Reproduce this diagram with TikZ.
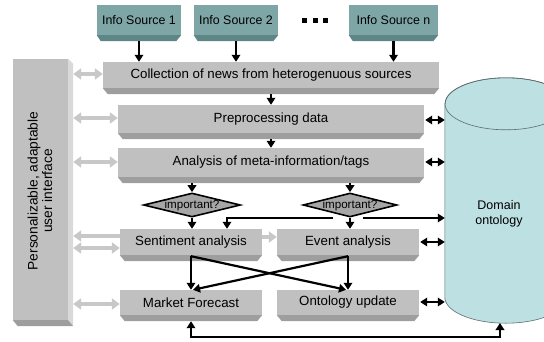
\documentclass[tikz,border=0pt]{standalone}
\usepackage{fontspec}
\setmainfont{Liberation Sans}
\usetikzlibrary{arrows.meta,shapes.geometric,calc}
\definecolor{boxgray}{HTML}{C0C0C0}
\definecolor{bevgray}{HTML}{9E9E9E}
\definecolor{uilight}{HTML}{D9D9D9}
\definecolor{srcteal}{HTML}{7FA6A7}
\definecolor{srcdark}{HTML}{5F8687}
\definecolor{cylfill}{HTML}{BDE0E3}
\definecolor{cylline}{HTML}{5A6E70}
\definecolor{garrow}{HTML}{C8C8C8}
\definecolor{diafill}{HTML}{A6A6A6}
\begin{document}
\begin{tikzpicture}[x=1pt,y=-1pt,
  txt/.style={font=\fontsize{13.3}{15}\selectfont},
  gbox/.style={txt,fill=boxgray,inner sep=0pt,minimum height=26pt},
  srcbox/.style={font=\fontsize{12.4}{14}\selectfont,fill=srcteal,inner sep=0pt,minimum height=30pt},
  dia/.style={diamond,draw=black,line width=1.6pt,fill=diafill,inner sep=0pt,minimum width=97pt,minimum height=24pt},
  blk/.style={line width=2.2pt,-{Triangle[length=7pt,width=8.5pt]}},
  blkdbl/.style={line width=2.2pt,{Triangle[length=7pt,width=8.5pt]}-{Triangle[length=7pt,width=8.5pt]}},
  gdbl/.style={garrow,line width=3.4pt,{Triangle[length=8pt,width=11pt]}-{Triangle[length=8pt,width=11pt]}},
  gone/.style={garrow,line width=3.4pt,-{Triangle[length=8pt,width=11pt]}},
]
\useasboundingbox (0,0) rectangle (544,341);
\clip (0,0) rectangle (544,341);

% cylinder
\node[inner sep=0pt,minimum width=122pt,minimum height=193pt] (cyl) at (506,200.5) {};
\path[fill=cylfill,draw=cylline,line width=0.6pt] (cyl.north west) -- (cyl.south west)
  arc[start angle=180,end angle=360,x radius=61pt,y radius=26pt] -- (cyl.north east)
  arc[start angle=0,end angle=180,x radius=61pt,y radius=26pt] -- cycle;
\draw[cylline,line width=0.6pt] (cyl.north) ellipse[x radius=61pt,y radius=26pt];
\node[font=\fontsize{12.5}{15}\selectfont,align=center] (dom) at (499,214) {Domain\\ontology};
\coordinate (cb) at (500,323);

% sources
\node[srcbox,minimum width=84pt] (s1) at (139,20) {Info Source 1};
\node[srcbox,minimum width=84pt] (s2) at (236,20) {Info Source 2};
\node[srcbox,minimum width=89pt] (sn) at (393.5,20) {Info Source n};
\foreach \n in {s1,s2,sn}{
  \fill[srcdark] (\n.south west) -- (\n.south east) -- ([xshift=-5pt,yshift=-6pt]\n.south east) -- ([xshift=4pt,yshift=-6pt]\n.south west) -- cycle;}
\fill (302,18) rectangle (307,23);
\fill (312.5,18) rectangle (317.5,23);
\fill (323,18) rectangle (328,23);

% user interface
\node[fill=boxgray,inner sep=0pt,minimum width=55pt,minimum height=261pt] (ui) at (40.5,189.5) {};
\fill[uilight] (ui.north east) -- ([xshift=5pt,yshift=-5pt]ui.north east) -- ([xshift=5pt,yshift=-6pt]ui.south east) -- (ui.south east) -- cycle;
\fill[bevgray] (ui.south west) -- (ui.south east) -- ([xshift=5pt,yshift=-6pt]ui.south east) -- ([xshift=5pt,yshift=-6pt]ui.south west) -- cycle;
\node[rotate=90,align=center,font=\fontsize{13.8}{14.5}\selectfont] (uitxt) at (40,191) {Personalizable, adaptable\\user interface};
\coordinate (uiR) at ([xshift=5pt]ui.east);

% process boxes
\node[gbox,minimum width=336pt] (coll) at (271,75) {Collection of news from heterogenuous sources};
\node[gbox,minimum width=306pt,minimum height=28pt] (prep) at (271,119) {Preprocessing data};
\node[gbox,minimum width=306pt,minimum height=29pt] (ana) at (271,162.5) {Analysis of meta-information/tags};
\node[gbox,minimum width=142pt] (sent) at (191,242) {Sentiment analysis};
\node[gbox,minimum width=142pt] (event) at (348,242) {Event analysis};
\node[gbox,minimum width=142pt,minimum height=25pt] (market) at (191,302.5) {Market Forecast};
\node[gbox,minimum width=142pt,minimum height=25pt] (upd) at (348,302.5) {Ontology update};
\foreach \n in {coll,prep,ana,sent,event,market,upd}{
  \fill[bevgray] (\n.south west) -- (\n.south east) -- ([xshift=-5pt,yshift=-6pt]\n.south east) -- ([xshift=5pt,yshift=-6pt]\n.south west) -- cycle;}

% diamonds
\node[dia,label={[font=\fontsize{11.6}{13}\selectfont]center:important?}] (d1) at (192,205) {};
\node[dia,minimum width=94pt,label={[font=\fontsize{11.6}{13}\selectfont]center:important?}] (d2) at (350,205) {};

% black arrows
\foreach \n in {s1,s2,sn}{ \draw[blk] ([yshift=-6pt]\n.south) -- (\n.south |- coll.north); }
\draw[blk] ([yshift=-6pt]coll.south) -- (prep.north);
\draw[blk] ([yshift=-6pt]prep.south) -- (ana.north);
\draw[blk] ([yshift=-6pt]ana.south -| d1.north) -- (d1.north);
\draw[blk] ([yshift=-6pt]ana.south -| d2.north) -- (d2.north);
\draw[blk] (d1.south) -- (d1.south |- sent.north);
\draw[blk] (d2.south) -- (d2.south |- event.north);
\coordinate (a1) at (333,218);
\coordinate (a2) at (227,218);
\coordinate (b1) at (363,218);
\draw[blk] (a1) -- (a2) -- (a2 |- sent.north);
\draw[blk] (b1) -- (b1 -| cyl.west);
% cross
\draw[blk] ([yshift=-1pt]sent.south) -- (sent.south |- market.north);
\draw[blk] ([yshift=-1pt]sent.south) -- ([xshift=-2pt]upd.north);
\draw[blk] ([yshift=-1pt]event.south) -- (event.south |- upd.north);
\draw[blk] ([yshift=-1pt]event.south) -- ([xshift=2pt]market.north);
% bottom loop
\coordinate (bot) at (500,337);
\draw[blkdbl] ([yshift=-6pt]market.south) |- (bot) -- (cb);
% to ontology
\foreach \n/\y in {prep/120,ana/162,event/242,upd/302}{
  \draw[blkdbl] ([xshift=1pt]\n.east |- 0,\y) -- (cyl.west |- 0,\y);}

% gray UI arrows
\draw[gdbl] (uiR |- 0,74) -- (coll.west |- 0,74);
\draw[gdbl] (uiR |- 0,118) -- (prep.west |- 0,118);
\draw[gdbl] (uiR |- 0,162) -- (ana.west |- 0,162);
\draw[gone] (sent.west |- 0,236) -- (uiR |- 0,236);
\draw[gdbl] (uiR |- 0,248) -- (sent.west |- 0,248);
\draw[gdbl] (uiR |- 0,304) -- (market.west |- 0,304);
\draw[gone] (sent.east |- 0,237) -- (event.west |- 0,237);
\end{tikzpicture}
\end{document}
